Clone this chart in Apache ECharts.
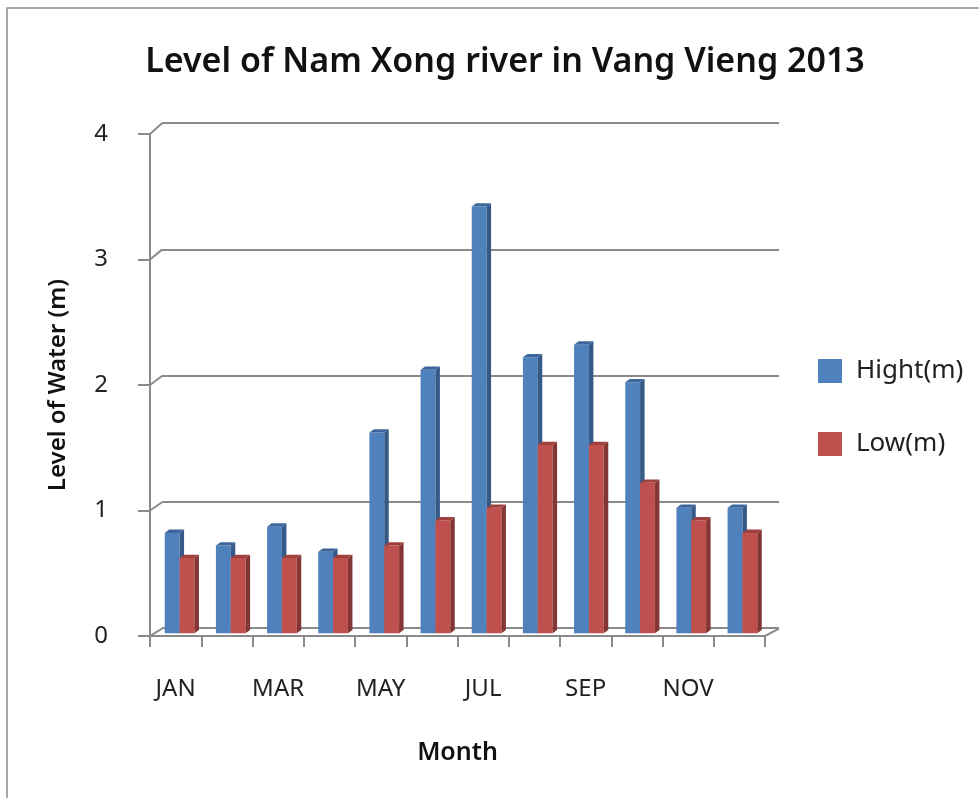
<!DOCTYPE html>
<html>
<head>
<meta charset="utf-8">
<script src="https://cdn.jsdelivr.net/npm/echarts@6/dist/echarts.min.js"></script>
<style>html,body{margin:0;padding:0;background:#fff;}#chart{width:979px;height:798px;}</style>
</head>
<body>
<div id="chart"></div>
<script>
const months = ['JAN','FEB','MAR','APR','MAY','JUN','JUL','AUG','SEP','OCT','NOV','DEC'];
const highValues = [0.8,0.7,0.85,0.65,1.6,2.1,3.4,2.2,2.3,2.0,1.0,1.0];
const lowValues = [0.6,0.6,0.6,0.6,0.7,0.9,1.0,1.5,1.5,1.2,0.9,0.8];
const yTicks = [0,1,2,3,4];
const seriesNames = ['Hight(m)','Low(m)'];

const FONT = 'Noto Sans';
const LINE = '#8a8a8a';

function barRenderer(shift, front, side, top) {
  return function (params, api) {
    const i = api.value(0), v = api.value(1);
    const p = api.coord([i, v]);
    const b = api.coord([i, 0]);
    const band = api.size([1, 0])[0];
    const w = band * 0.29;
    const L = p[0] + shift * w, R = L + w;
    const d = 4.5, dy = 3.3;
    const yT = p[1] + dy, yB = b[1] + dy;
    return {
      type: 'group',
      children: [
        {type: 'rect', shape: {x: L, y: yT, width: w, height: yB - yT}, style: {fill: front}},
        {type: 'polygon', shape: {points: [[R, yT], [R + d, yT - dy], [R + d, yB - dy], [R, yB]]}, style: {fill: side}},
        {type: 'polygon', shape: {points: [[L, yT], [L + d, yT - dy], [R + d, yT - dy], [R, yT]]}, style: {fill: top}}
      ]
    };
  };
}

function frameRenderer(params, api) {
  const v = api.value(1);
  const p = api.coord([0, v]);
  const band = api.size([1, 0])[0];
  const x0 = p[0] - band / 2;
  const children = [
    {type: 'line', shape: {x1: x0, y1: p[1], x2: x0 + 12, y2: p[1] - 7.4 - 0.83 * v}, style: {stroke: LINE, lineWidth: 2}}
  ];
  if (v === 0) {
    const xr = api.coord([months.length - 1, 0])[0] + band / 2;
    children.push({type: 'line', shape: {x1: xr, y1: p[1], x2: xr + 14, y2: p[1] - 7.4}, style: {stroke: LINE, lineWidth: 2}});
  }
  return {type: 'group', children: children};
}

const chart = echarts.init(document.getElementById('chart'));
chart.setOption({
  animation: false,
  backgroundColor: '#fff',
  title: {
    text: 'Level of Nam Xong river in Vang Vieng 2013',
    left: 500, top: 40, textAlign: 'center',
    textStyle: {fontFamily: FONT, fontSize: 34, fontWeight: 600, color: '#111'}
  },
  legend: {
    data: seriesNames,
    orient: 'vertical',
    left: 818, top: 358, padding: 0,
    itemWidth: 24, itemHeight: 24, itemGap: 47,
    icon: 'rect',
    textStyle: {fontFamily: FONT, fontSize: 26, color: '#222', lineHeight: 24, padding: [0, 0, 0, 9]}
  },
  graphic: [
    {type: 'rect', silent: true, z: -10, shape: {x: 7, y: 8, width: 1100, height: 1100}, style: {fill: 'none', stroke: '#8a8a8a', lineWidth: 1.5}}
  ],
  grid: [
    {left: 150, right: 214, top: 134, bottom: 162},
    {left: 162, right: 200, top: 123, bottom: 170},
    {left: 154, right: 211, top: 128, bottom: 168}
  ],
  xAxis: [
    {
      gridIndex: 0, type: 'category', data: months, boundaryGap: true,
      axisLine: {show: true, lineStyle: {color: LINE, width: 2}},
      axisTick: {show: true, interval: 0, length: 11, lineStyle: {color: LINE, width: 2}},
      axisLabel: {interval: 1, margin: 41, fontFamily: FONT, fontSize: 24, color: '#222'},
      name: 'Month', nameLocation: 'middle', nameGap: 104,
      nameTextStyle: {fontFamily: FONT, fontSize: 25, fontWeight: 600, color: '#111'},
      splitLine: {show: false}
    },
    {gridIndex: 1, type: 'category', data: months, show: false},
    {gridIndex: 2, type: 'category', data: months, show: false}
  ],
  yAxis: [
    {
      gridIndex: 0, type: 'value', min: 0, max: 4, interval: 1,
      axisLine: {show: true, lineStyle: {color: LINE, width: 2}},
      axisTick: {show: true, length: 12, lineStyle: {color: LINE, width: 2}},
      axisLabel: {margin: 42, fontFamily: FONT, fontSize: 24, color: '#222'},
      splitLine: {show: false},
      name: 'Level of Water (m)', nameLocation: 'middle', nameGap: 80,
      nameTextStyle: {fontFamily: FONT, fontSize: 24, fontWeight: 600, color: '#111'}
    },
    {
      gridIndex: 1, type: 'value', min: 0, max: 4, interval: 1,
      axisLine: {show: false}, axisTick: {show: false}, axisLabel: {show: false},
      splitLine: {show: true, lineStyle: {color: LINE, width: 2}}
    },
    {gridIndex: 2, type: 'value', min: 0, max: 4, interval: 1, show: false, splitLine: {show: false}}
  ],
  series: [
    {
      type: 'custom', name: 'frame', xAxisIndex: 0, yAxisIndex: 0, silent: true, z: 1,
      renderItem: frameRenderer,
      data: yTicks.map(v => [0, v])
    },
    {
      type: 'custom', name: seriesNames[0], xAxisIndex: 2, yAxisIndex: 2, z: 3,
      itemStyle: {color: '#4F81BD'},
      renderItem: barRenderer(-1, '#4F81BD', '#365A88', '#3D679C'),
      encode: {x: 0, y: 1},
      data: highValues.map((v, i) => [i, v])
    },
    {
      type: 'custom', name: seriesNames[1], xAxisIndex: 2, yAxisIndex: 2, z: 3,
      itemStyle: {color: '#C0504D'},
      renderItem: barRenderer(0, '#C0504D', '#833634', '#9E403D'),
      encode: {x: 0, y: 1},
      data: lowValues.map((v, i) => [i, v])
    }
  ]
});
</script>
</body>
</html>
